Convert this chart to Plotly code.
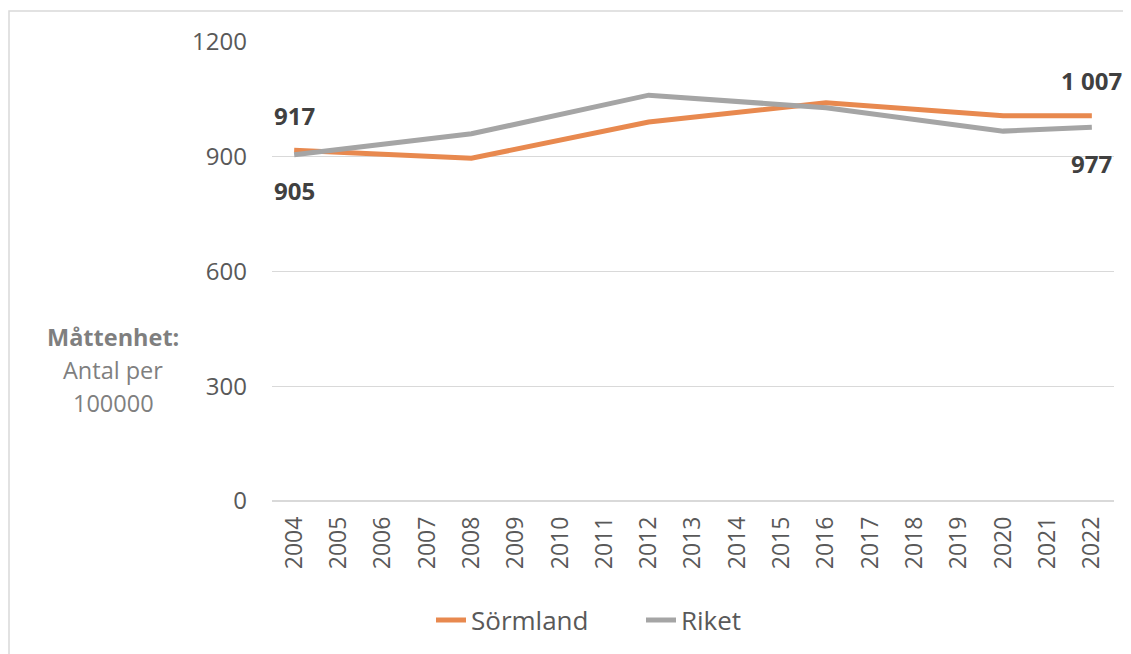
import plotly.graph_objects as go

years = list(range(2004, 2023))
sormland = [917, None, None, None, 896, None, None, None, 991, None, None, None, 1041, None, None, None, 1007, None, 1007]
riket = [905, None, None, None, 960, None, None, None, 1061, None, None, None, 1028, None, None, None, 967, None, 977]
y_ticks = [0, 300, 600, 900, 1200]

font = "Open Sans"
OFF = 8  # page body offset
W, H = 1131 - OFF, 654 - OFF
# plot area in page pixels: x 272..1114, y 42..501
L = 272 - OFF
T = 42 - OFF
R = W - (1114 - OFF)
B = H - (501 - OFF)
PW, PH = W - L - R, H - T - B

def px_x(p):
    return (p - OFF - L) / PW

def px_y(p):
    return (H - B - (p - OFF)) / PH

fig = go.Figure()
fig.add_trace(go.Scatter(x=years, y=sormland, name="Sörmland", mode="lines", connectgaps=True,
                         line=dict(color="#E8894F", width=5)))
fig.add_trace(go.Scatter(x=years, y=riket, name="Riket", mode="lines", connectgaps=True,
                         line=dict(color="#A5A5A5", width=5)))

def fmt(v):
    return f"{v:,}".replace(",", " ")

lab_font = dict(family=font, size=24, color="#404040")
for series, shift in [(sormland, 35), (riket, -36)]:
    vals = [(years[i], v) for i, v in enumerate(series) if v is not None]
    for (x, v) in (vals[0], vals[-1]):
        fig.add_annotation(x=x, y=v, text=f"<b>{fmt(v)}</b>", showarrow=False,
                           yshift=shift, font=lab_font)

unit_font = dict(family=font, size=23.5, color="#7F7F7F")
for txt, yp in [("<b>Måttenhet:</b>", 337), ("Antal per", 370), ("100000", 403)]:
    fig.add_annotation(xref="paper", yref="paper", x=px_x(113), y=px_y(yp), text=txt,
                       showarrow=False, font=unit_font, yanchor="middle", xanchor="center")

fig.add_shape(type="rect", xref="paper", yref="paper",
              x0=px_x(9), x1=px_x(1160), y0=px_y(680), y1=px_y(11),
              line=dict(color="#D9D9D9", width=1.5), layer="below")

fig.update_layout(
    width=W, height=H,
    margin=dict(l=L, r=R, t=T, b=B, autoexpand=False),
    plot_bgcolor="white", paper_bgcolor="white",
    font=dict(family=font, color="#595959"),
    showlegend=True,
    legend=dict(orientation="h", x=px_x(431), xanchor="left", y=px_y(620), yanchor="middle",
                font=dict(family=font, size=26, color="#595959"),
                entrywidth=165, entrywidthmode="pixels",
                traceorder="normal"),
)
fig.update_xaxes(range=[2003.5, 2022.5], tickmode="array", tickvals=years,
                 ticktext=[str(y) for y in years], tickangle=-90,
                 tickfont=dict(family=font, size=23, color="#595959"),
                 showgrid=False, showline=False, zeroline=False, ticks="", ticklabelstandoff=10)
fig.update_yaxes(range=[0, 1200], tickvals=y_ticks, tickfont=dict(family=font, size=24, color="#595959"),
                 showgrid=True, gridcolor="#D9D9D9", gridwidth=1, zeroline=True, zerolinecolor="#D9D9D9",
                 zerolinewidth=1.5, ticks="", showline=False, ticklabelstandoff=24)

fig.write_html("out.html")
